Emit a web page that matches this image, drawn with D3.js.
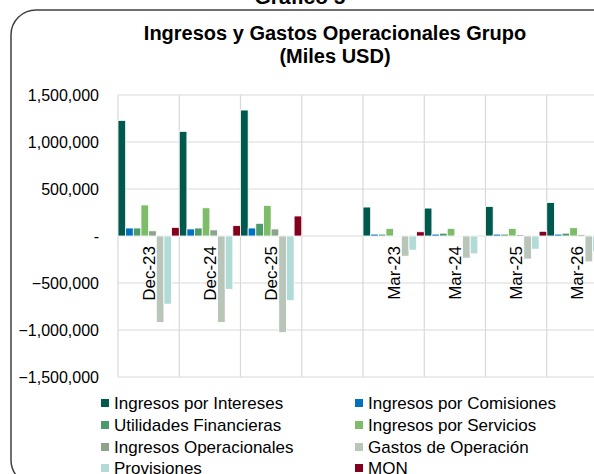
<html>
<head>
<script src="https://d3js.org/d3.v7.min.js"></script>
<style>
  body { margin: 0; background: #fff; }
  text { font-family: "Liberation Sans", Arial, sans-serif; }
</style>
</head>
<body>
<div id="chart"></div>
<script>
// categories (blank slot between the year-end and the March groups)
const categories = ["Dec-23", "Dec-24", "Dec-25", "", "Mar-23", "Mar-24", "Mar-25", "Mar-26"];

const seriesNames = [
  "Ingresos por Intereses", "Ingresos por Comisiones",
  "Utilidades Financieras", "Ingresos por Servicios",
  "Ingresos Operacionales", "Gastos de Operación",
  "Provisiones", "MON"
];
const seriesColors = ["#00594c", "#0070c0", "#4c9a6a", "#7dbd6a", "#8ca48a", "#b8c5b8", "#b2dad6", "#82001e"];

// values per series, one per category (Miles USD)
const intereses     = [1230000, 1113000, 1340000, null, 308000, 297000, 314000, 356000];
const comisiones    = [85000, 75000, 85000, null, 20000, 20000, 20000, 20000];
const utilidades    = [85000, 85000, 135000, null, 20000, 30000, 20000, 30000];
const servicios     = [330000, 300000, 326000, null, 80000, 80000, 80000, 88000];
const operacionales = [55000, 65000, 75000, null, 5000, 5000, 15000, 15000];
const gastos        = [-920000, -920000, -1028000, null, -215000, -235000, -245000, -275000];
const provisiones   = [-725000, -567000, -688000, null, -150000, -190000, -140000, -170000];
const mon           = [92000, 110000, 213000, null, 45000, 0, 50000, 50000];

const seriesValues = [intereses, comisiones, utilidades, servicios, operacionales, gastos, provisiones, mon];
const yTicks = [-1500000, -1000000, -500000, 0, 500000, 1000000, 1500000];

const W = 594, H = 474;
const plot = { left: 118, top: 95, right: 608, bottom: 377 };

const svg = d3.select("#chart").append("svg")
  .attr("width", W).attr("height", H);

svg.append("rect").attr("width", W).attr("height", H).attr("fill", "#fff");

// figure caption, cut off at the top
svg.append("text")
  .attr("x", 300).attr("y", 4)
  .attr("text-anchor", "middle")
  .style("font-size", "21px").style("font-weight", "bold")
  .text("Gráfico 5");

// chart frame
svg.append("rect")
  .attr("x", 11).attr("y", 10)
  .attr("width", 607).attr("height", 475)
  .attr("rx", 25).attr("ry", 25)
  .attr("fill", "none").attr("stroke", "#404040").attr("stroke-width", 1.5);

// title
const title = svg.append("text")
  .attr("text-anchor", "middle")
  .style("font-size", "20px").style("font-weight", "bold");
title.append("tspan").attr("x", 335).attr("y", 40).text("Ingresos y Gastos Operacionales Grupo");
title.append("tspan").attr("x", 335).attr("y", 63).text("(Miles USD)");

const x = d3.scaleBand()
  .domain(d3.range(categories.length))
  .range([plot.left, plot.right])
  .padding(0);

const xs = d3.scaleBand()
  .domain(d3.range(seriesNames.length))
  .range([0, x.bandwidth()])
  .padding(0);

const y = d3.scaleLinear()
  .domain([-1500000, 1500000])
  .range([plot.bottom, plot.top]);

// horizontal gridlines
svg.append("g").selectAll("line")
  .data(yTicks)
  .join("line")
  .attr("x1", plot.left).attr("x2", plot.right)
  .attr("y1", d => y(d)).attr("y2", d => y(d))
  .attr("stroke", "#d9d9d9").attr("stroke-width", 1.2);

// vertical gridlines at category boundaries
svg.append("g").selectAll("line")
  .data(d3.range(categories.length + 1))
  .join("line")
  .attr("x1", i => i < categories.length ? x(i) : plot.right)
  .attr("x2", i => i < categories.length ? x(i) : plot.right)
  .attr("y1", plot.top).attr("y2", plot.bottom)
  .attr("stroke", "#d9d9d9").attr("stroke-width", 1.2);

// bars
const groups = svg.append("g").selectAll("g")
  .data(seriesValues)
  .join("g")
  .attr("fill", (d, i) => seriesColors[i]);

groups.each(function(vals, si) {
  d3.select(this).selectAll("rect")
    .data(vals.map((v, ci) => ({ v, ci })).filter(d => d.v !== null))
    .join("rect")
    .attr("x", d => x(d.ci) + xs(si))
    .attr("width", xs.bandwidth())
    .attr("y", d => y(Math.max(0, d.v)))
    .attr("height", d => Math.abs(y(d.v) - y(0)))
    .attr("stroke", "#fff").attr("stroke-width", 0.8);
});

// y axis labels
const fmt = d3.format(",");
svg.append("g").selectAll("text")
  .data(yTicks)
  .join("text")
  .attr("x", 99)
  .attr("y", d => y(d))
  .attr("dy", "0.35em")
  .attr("text-anchor", "end")
  .style("font-size", "16px")
  .text(d => d === 0 ? "-" : fmt(d));

// category labels, rotated
svg.append("g").selectAll("text")
  .data(categories.map((c, i) => ({ c, i })).filter(d => d.c !== ""))
  .join("text")
  .attr("transform", d => `translate(${x(d.i) + x.bandwidth() / 2},${y(0) + 10}) rotate(-90)`)
  .attr("text-anchor", "end")
  .attr("dy", "0.35em")
  .style("font-size", "17px")
  .text(d => d.c);

// legend, two columns
const legend = svg.append("g").selectAll("g")
  .data(seriesNames)
  .join("g")
  .attr("transform", (d, i) => `translate(${i % 2 === 0 ? 101 : 355},${[403, 425, 447, 468][Math.floor(i / 2)]})`);

legend.append("rect")
  .attr("x", 0).attr("y", -4)
  .attr("width", 8).attr("height", 8)
  .attr("fill", (d, i) => seriesColors[i]);

legend.append("text")
  .attr("x", 13).attr("dy", "0.35em")
  .style("font-size", "17px")
  .text(d => d);
</script>
</body>
</html>
